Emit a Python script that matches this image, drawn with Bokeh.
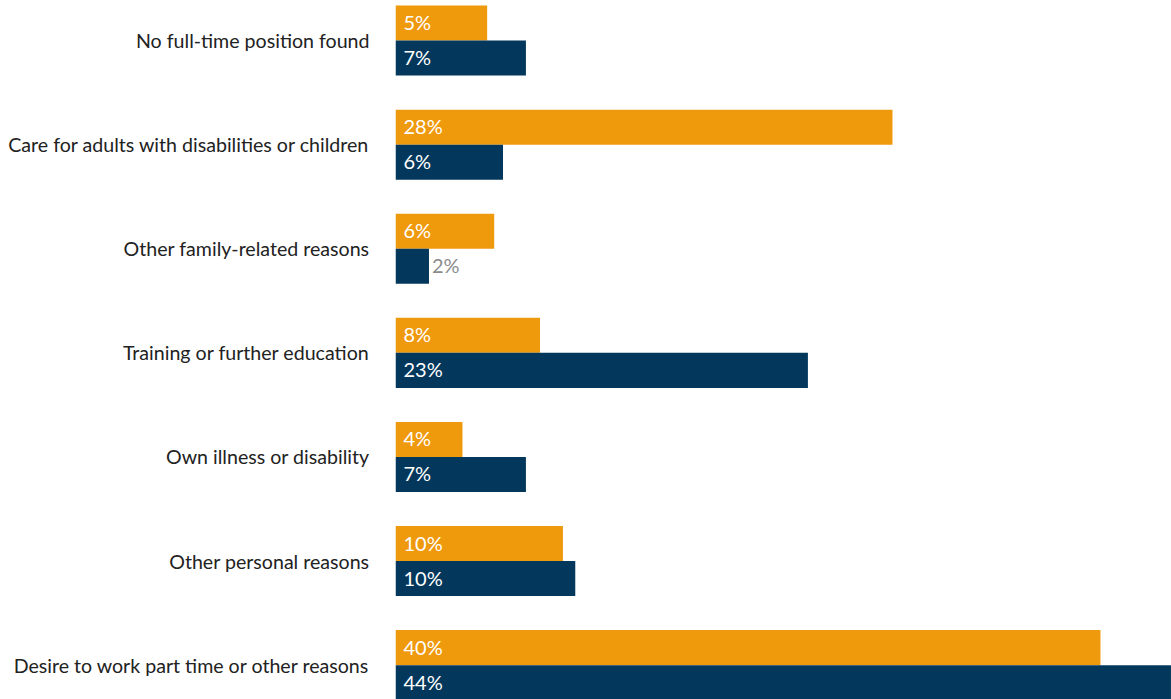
from bokeh.plotting import figure
from bokeh.models import ColumnDataSource, Range1d, FixedTicker
from bokeh.transform import dodge
from bokeh.core.properties import value
from bokeh.embed import file_html
from bokeh.resources import INLINE

categories = [
    "No full-time position found",
    "Care for adults with disabilities or children",
    "Other family-related reasons",
    "Training or further education",
    "Own illness or disability",
    "Other personal reasons",
    "Desire to work part time or other reasons",
]
orange_values = [5.2, 28.2, 5.6, 8.2, 3.8, 9.5, 40.0]
blue_values = [7.4, 6.1, 1.9, 23.4, 7.4, 10.2, 44.0]
orange_labels = ["5%", "28%", "6%", "8%", "4%", "10%", "40%"]
blue_labels = ["7%", "6%", "2%", "23%", "7%", "10%", "44%"]

ORANGE = "#EF990D"
BLUE = "#03385C"
FONT = "Lato"

idx = list(range(len(categories)))
BAR_H = 0.3365

p = figure(width=1171, height=699, output_backend="svg", toolbar_location=None,
           x_range=Range1d(0, 44.03), y_range=Range1d(6.33, -0.385),
           min_border_left=395, min_border_right=0, min_border_top=0, min_border_bottom=0)
p.outline_line_color = None
p.grid.visible = False
p.xaxis.visible = False

def make_source(vals, labels):
    tx, tc, toff = [], [], []
    for v in vals:
        if v < 3:
            tx.append(v); tc.append("#8C8C8C"); toff.append(3)
        else:
            tx.append(0); tc.append("#FFFFFF"); toff.append(8)
    return ColumnDataSource(dict(y=idx, v=vals, lab=labels, tx=tx, tc=tc, toff=toff))

src_o = make_source(orange_values, orange_labels)
src_b = make_source(blue_values, blue_labels)

for src, col, off in [(src_o, ORANGE, -BAR_H / 2), (src_b, BLUE, BAR_H / 2)]:
    p.hbar(y=dodge("y", off, range=p.y_range), left=0, right="v", height=BAR_H,
           fill_color=col, line_color=None, source=src)
    p.text(x="tx", y=dodge("y", off, range=p.y_range), text="lab", x_offset="toff",
           y_offset=-1, text_color="tc", text_font=value(FONT), text_font_size="20px",
           text_baseline="middle", text_align="left", source=src)

ax = p.yaxis[0]
ax.ticker = FixedTicker(ticks=idx)
ax.major_label_overrides = {i: c for i, c in enumerate(categories)}
ax.axis_line_color = None
ax.major_tick_line_color = None
ax.minor_tick_line_color = None
ax.major_label_standoff = 20
ax.major_label_text_font = FONT
ax.major_label_text_font_size = "19.6px"
ax.major_label_text_color = "#222222"

open("out.html", "w").write(file_html(p, INLINE))
